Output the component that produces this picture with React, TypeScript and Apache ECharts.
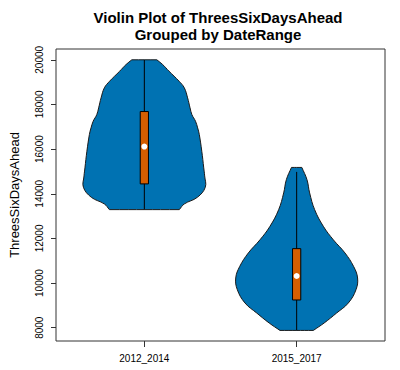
import { useEffect, useRef } from 'react';
import * as echarts from 'echarts';

const categories = ['2012_2014', '2015_2017'];
const yTicks = [8000, 10000, 12000, 14000, 16000, 18000, 20000];

// violin outline: values along y and relative half-widths (1 = widest)
const profileValuesA = [13290, 13542, 13842, 14291, 14800, 15159, 15903, 16652, 16952, 17248, 17548, 17849, 18297, 18745, 19041, 19489, 19789, 20000];
const profileWidthsA = [0.574, 0.655, 0.87, 1.0, 0.99, 0.975, 0.943, 0.902, 0.875, 0.84, 0.78, 0.75, 0.71, 0.656, 0.57, 0.405, 0.3, 0.205];
const profileValuesB = [7880, 8212, 8660, 9108, 9704, 10229, 10749, 11349, 11938, 12542, 13290, 14039, 14635, 15180];
const profileWidthsB = [0.274, 0.451, 0.656, 0.848, 0.974, 1.0, 0.934, 0.793, 0.602, 0.438, 0.295, 0.213, 0.169, 0.085];

const whiskerLow = [13290, 7880];
const whiskerHigh = [20000, 14980];
const q1 = [14442, 9243];
const q3 = [17683, 11542];
const medians = [16114, 10318];

const FONT = '"Liberation Sans", Arial, sans-serif';

export default function App() {
  const ref = useRef<HTMLDivElement>(null);
  useEffect(() => {
    const chart = echarts.init(ref.current!, null, { renderer: 'svg' });
    const profiles = [
      { values: profileValuesA, widths: profileWidthsA },
      { values: profileValuesB, widths: profileWidthsB },
    ];
    const halfMax = 0.4;
    const boxHalf = 0.027;
    chart.setOption({
      animation: false,
      textStyle: { fontFamily: FONT },
      grid: {
        left: 56, right: 15, top: 49, bottom: 29,
        show: true, borderColor: '#333', borderWidth: 1, backgroundColor: 'transparent',
      },
      xAxis: {
        type: 'value', min: 0.42, max: 2.58,
        axisLine: { show: false },
        splitLine: { show: false },
        axisTick: { show: true, length: 6, customValues: [1, 2], lineStyle: { color: '#333' } },
        axisLabel: {
          customValues: [1, 2],
          formatter: (v: number) => categories[Math.round(v) - 1] ?? '',
          fontSize: 10, color: '#000', margin: 12, fontFamily: FONT,
        },
      },
      yAxis: {
        type: 'value', min: 7406, max: 20484,
        axisLine: { show: false },
        splitLine: { show: false },
        axisTick: { show: true, length: 5, customValues: yTicks, lineStyle: { color: '#333' } },
        axisLabel: {
          customValues: yTicks, rotate: 90, fontSize: 10, color: '#000', margin: 12, fontFamily: FONT,
          formatter: (v: number) => String(Math.round(v)),
        },
      },
      series: [
        {
          type: 'custom',
          data: categories.map((c, i) => [i + 1, medians[i]]),
          renderItem: (params: any, api: any) => {
            const i = params.dataIndex;
            const x = i + 1;
            const p = profiles[i];
            const right = p.values.map((v, k) => api.coord([x + p.widths[k] * halfMax, v]));
            const left = p.values.map((v, k) => api.coord([x - p.widths[k] * halfMax, v])).reverse();
            // duplicate the corner points so the flat top and bottom stay sharp when smoothed
            const n = right.length;
            const pts = [
              right[0], ...right.slice(0, n - 1), right[n - 1], right[n - 1],
              left[0], ...left.slice(0, n - 1), left[n - 1], left[n - 1],
            ];
            const top = api.coord([x, whiskerHigh[i]]);
            const bot = api.coord([x, whiskerLow[i]]);
            const b1 = api.coord([x - boxHalf, q3[i]]);
            const b2 = api.coord([x + boxHalf, q1[i]]);
            const m = api.coord([x, medians[i]]);
            return {
              type: 'group',
              children: [
                { type: 'polygon', shape: { points: pts, smooth: 0.4 }, style: { fill: '#0072B2', stroke: '#1a1a1a', lineWidth: 1 } },
                { type: 'line', shape: { x1: top[0], y1: top[1], x2: bot[0], y2: bot[1] }, style: { stroke: '#000', lineWidth: 1 } },
                { type: 'rect', shape: { x: b1[0], y: b1[1], width: b2[0] - b1[0], height: b2[1] - b1[1] }, style: { fill: '#D55E00', stroke: '#000', lineWidth: 1 } },
                { type: 'circle', shape: { cx: m[0], cy: m[1], r: 3 }, style: { fill: '#fff', stroke: 'none' } },
              ],
            };
          },
        },
      ],
      graphic: [
        { type: 'text', x: 218, y: 17, style: { text: 'Violin Plot of ThreesSixDaysAhead', fontSize: 15, fontWeight: 'bold', fontFamily: FONT, fill: '#000', align: 'center', verticalAlign: 'middle' } },
        { type: 'text', x: 218, y: 34, style: { text: 'Grouped by DateRange', fontSize: 15, fontWeight: 'bold', fontFamily: FONT, fill: '#000', align: 'center', verticalAlign: 'middle' } },
        { type: 'text', x: 14, y: 195, rotation: Math.PI / 2, style: { text: 'ThreesSixDaysAhead', fontSize: 13, fontFamily: FONT, fill: '#000', align: 'center', verticalAlign: 'middle' } },
      ],
    });
    return () => chart.dispose();
  }, []);
  return (
    <div
      ref={ref}
      style={{ position: 'fixed', left: 0, top: 0, width: 400, height: 370, background: '#fff' }}
    />
  );
}
